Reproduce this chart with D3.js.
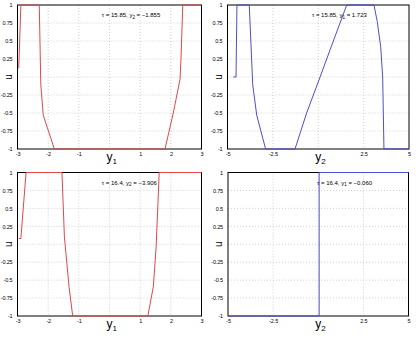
<!DOCTYPE html>
<html>
<head>
<meta charset="utf-8">
<script src="https://cdn.jsdelivr.net/npm/d3@7"></script>
<style>
  body { margin: 0; background: #fff; }
  svg { display: block; font-family: "Liberation Sans", Arial, sans-serif; }
</style>
</head>
<body>
<div id="chart"></div>
<script>
// Tick values
const uTicks = [-1, -0.75, -0.5, -0.25, 0, 0.25, 0.5, 0.75, 1];
const y1Ticks = [-3, -2, -1, 0, 1, 2, 3];
const y2Ticks = [-5, -2.5, 0, 2.5, 5];

// Curves: [y, u]
const curveTopLeft = [
    [-2.96, 0.12], [-2.89, 1], [-2.29, 1], [-2.24, -0.11], [-2.16, -0.53],
    [-1.80, -1], [1.81, -1], [2.08, -0.50], [2.30, -0.03], [2.33, 0.24],
    [2.39, 1], [3, 1]
];
const curveTopRight = [
    [-4.68, 0], [-4.53, 0], [-4.48, 1], [-3.80, 1], [-3.61, -0.11],
    [-3.39, -0.53], [-2.90, -1], [-1.28, -1], [-0.64, -0.5], [0.10, 0],
    [0.83, 0.5], [1.57, 1], [3.07, 1], [3.25, 0.77], [3.44, 0.42],
    [3.55, 0], [3.62, -1], [5, -1]
];
const curveBottomLeft = [
    [-2.96, 0.08], [-2.89, 0.08], [-2.72, 1], [-1.55, 1], [-1.47, 0.10],
    [-1.32, -0.59], [-1.20, -1], [1.25, -1], [1.43, -0.59], [1.52, -0.04],
    [1.58, 0.57], [1.62, 1], [3, 1]
];
const curveBottomRight = [
    [-5, -1], [0.05, -1], [0.05, 1], [5, 1]
];

// Annotation texts
const noteTau = ["15.85", "15.85", "16.4", "16.4"];
const noteSub = ["2", "1", "2", "1"];
const noteVal = ["\u22121.855", "1.723", "\u22123.906", "\u22120.060"];
const noteX = [-0.25, -0.35, -0.25, -0.07];

// Layout
const W = 416, H = 342;
const panels = [
    { left: 17.5,  top: 5,     width: 184,   height: 144,   ticks: y1Ticks, curve: curveTopLeft,     sub: "1", color: "#e04848" },
    { left: 227.5, top: 5,     width: 181.5, height: 144,   ticks: y2Ticks, curve: curveTopRight,    sub: "2", color: "#4e4ed0" },
    { left: 17.5,  top: 172.5, width: 184,   height: 143.5, ticks: y1Ticks, curve: curveBottomLeft,  sub: "1", color: "#e04848" },
    { left: 228,   top: 172.5, width: 180.5, height: 143.5, ticks: y2Ticks, curve: curveBottomRight, sub: "2", color: "#4e4ed0" }
];

const fmt = d => d === 0 ? "" : String(d);

const svg = d3.select("#chart").append("svg")
    .attr("width", W)
    .attr("height", H);

panels.forEach((p, i) => {
    const g = svg.append("g").attr("transform", `translate(${p.left},${p.top})`);

    const x = d3.scaleLinear()
        .domain(d3.extent(p.ticks))
        .range([0, p.width]);
    const y = d3.scaleLinear()
        .domain([-1, 1])
        .range([p.height, 0]);

    // white plot area
    g.append("rect")
        .attr("width", p.width)
        .attr("height", p.height)
        .attr("fill", "#fff");

    // dotted grid
    g.append("g").selectAll("line")
        .data(p.ticks.slice(1, -1))
        .enter().append("line")
        .attr("x1", d => x(d)).attr("x2", d => x(d))
        .attr("y1", 0).attr("y2", p.height)
        .attr("stroke", "#c4c4c4")
        .attr("stroke-width", 0.8)
        .attr("stroke-dasharray", "1,2");

    g.append("g").selectAll("line")
        .data(uTicks.slice(1, -1))
        .enter().append("line")
        .attr("x1", 0).attr("x2", p.width)
        .attr("y1", d => y(d)).attr("y2", d => y(d))
        .attr("stroke", "#c4c4c4")
        .attr("stroke-width", 0.8)
        .attr("stroke-dasharray", "1,2");

    // axes (labels only)
    const xAxis = g.append("g")
        .attr("transform", `translate(0,${p.height})`)
        .call(d3.axisBottom(x).tickValues(p.ticks).tickSize(0).tickPadding(3).tickFormat(fmt));
    const yAxis = g.append("g")
        .call(d3.axisLeft(y).tickValues(uTicks).tickSize(0).tickPadding(5).tickFormat(fmt));
    [xAxis, yAxis].forEach(a => {
        a.select(".domain").remove();
        a.selectAll("text")
            .attr("font-family", "Liberation Sans, Arial, sans-serif")
            .attr("font-size", 5.5)
            .attr("letter-spacing", -0.15)
            .attr("fill", "#000");
    });

    // box
    g.append("rect")
        .attr("width", p.width)
        .attr("height", p.height)
        .attr("fill", "none")
        .attr("stroke", "#000")
        .attr("stroke-width", 1);

    // curve
    const line = d3.line()
        .x(d => x(d[0]))
        .y(d => y(d[1]));
    g.append("path")
        .datum(p.curve)
        .attr("d", line)
        .attr("fill", "none")
        .attr("stroke", p.color)
        .attr("stroke-width", 1);

    // annotation
    const note = g.append("text")
        .attr("x", x(noteX[i]))
        .attr("y", y(0.86) + 2)
        .attr("font-size", 6)
        .attr("fill", "#000");
    note.append("tspan").text(`\u03c4 = ${noteTau[i]}, y`);
    note.append("tspan").attr("dy", 1.5).attr("font-size", 4.5).text(noteSub[i]);
    note.append("tspan").attr("dy", -1.5).text(` = ${noteVal[i]}`);

    // x label
    const xl = g.append("text")
        .attr("x", x(0) - 3)
        .attr("y", p.height + 12)
        .attr("font-size", 12)
        .attr("fill", "#000");
    xl.append("tspan").text("y");
    xl.append("tspan").attr("dy", 3).attr("font-size", 8).text(p.sub);

    // y label
    g.append("text")
        .attr("transform", `translate(${-6},${y(0)}) rotate(-90)`)
        .attr("text-anchor", "middle")
        .attr("font-size", 10)
        .attr("fill", "#000")
        .text("u");
});
</script>
</body>
</html>
